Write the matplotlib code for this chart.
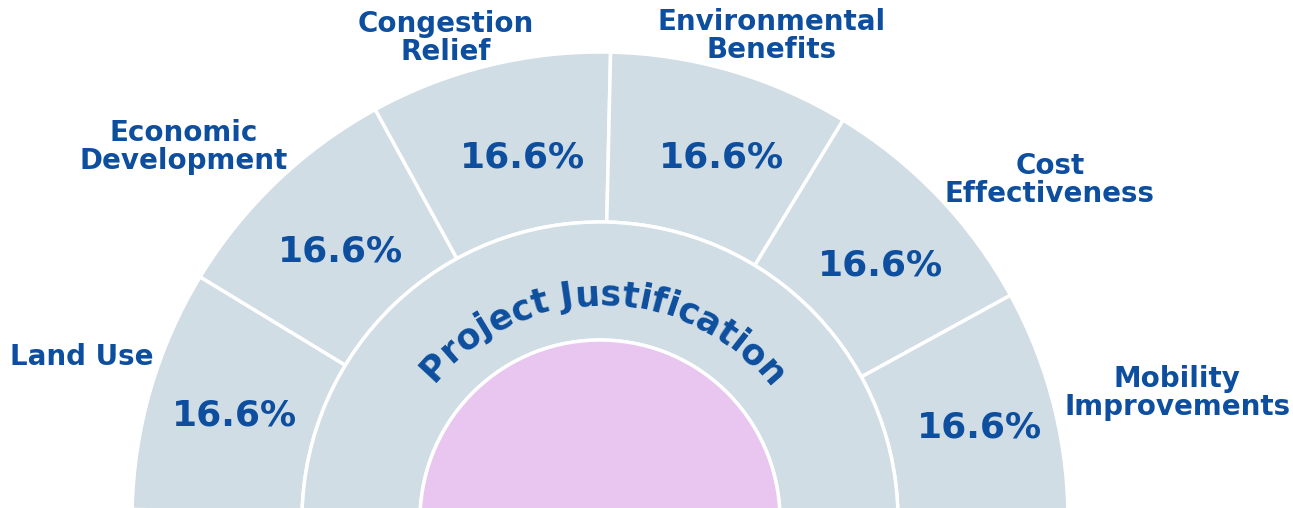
import numpy as np
import matplotlib
matplotlib.use("Agg")
import matplotlib.pyplot as plt
from matplotlib.textpath import TextToPath
from matplotlib.font_manager import FontProperties

# ---- data ----
categories = ["Land Use", "Economic\nDevelopment", "Congestion\nRelief",
              "Environmental\nBenefits", "Cost\nEffectiveness", "Mobility\nImprovements"]
shares = [16.6, 16.6, 16.6, 16.6, 16.6, 16.6]
center_title = "Project Justification"

# ---- style / layout ----
BLUE = "#0d4f9e"
GRAY = "#d1dde5"
PINK = "#e8c6ef"
FONT = "DejaVu Sans"

W, H, DPI = 1293, 508, 100
R_PX = 468.0
CX, CY = 600.0, 520.0
BOTTOM_PX = 505.0
START = 178.7

# category label layout: (angle offset from wedge mid in deg, radius in px)
label_layout = [(-1.2, 543), (4.5, 559), (4.0, 506), (-3.2, 513), (-6.6, 564), (-1.3, 591)]
# percentage label layout: (angle offset in deg, radius in px)
pct_layout = [(-0.2, 381), (0.0, 376), (-1.7, 374), (-2.1, 386), (-1.0, 381), (0.5, 391)]

fig = plt.figure(figsize=(W / DPI, H / DPI), dpi=DPI)
fig.patch.set_facecolor("white")
ax = fig.add_axes([0, (H - BOTTOM_PX) / H, 1, BOTTOM_PX / H])

total = sum(shares)
outer, _ = ax.pie(shares + [total], radius=1.0, startangle=START, counterclock=False,
                  wedgeprops=dict(width=(468 - 298) / R_PX, edgecolor="white", linewidth=2.5))
outer[-1].set_visible(False)
for w in outer[:-1]:
    w.set_facecolor(GRAY)

inner, _ = ax.pie([total, total], radius=298 / R_PX, startangle=START, counterclock=False,
                  wedgeprops=dict(width=(298 - 180) / R_PX, edgecolor="white", linewidth=2.5))
inner[0].set_facecolor(GRAY)
inner[1].set_visible(False)

core, _ = ax.pie([total, total], radius=180 / R_PX, startangle=START, counterclock=False,
                 wedgeprops=dict(edgecolor="white", linewidth=2.5))
core[0].set_facecolor(PINK)
core[1].set_visible(False)

ax.set_aspect("auto")
ax.set_xlim(-CX / R_PX, (W - CX) / R_PX)
ax.set_ylim((CY - BOTTOM_PX) / R_PX, CY / R_PX)
ax.axis("off")

# percentage labels and category labels
for w, v, name, (doff, rpx), (poff, prpx) in zip(outer[:-1], shares, categories,
                                                 label_layout, pct_layout):
    midd = (w.theta1 + w.theta2) / 2
    pa = np.deg2rad(midd + poff)
    r = prpx / R_PX
    ax.text(r * np.cos(pa), r * np.sin(pa), f"{v}%", ha="center", va="center_baseline",
            fontsize=26, fontweight="bold", color=BLUE, family=FONT)
    a = np.deg2rad(midd + doff)
    rl = rpx / R_PX
    ax.text(rl * np.cos(a), rl * np.sin(a), name, ha="center", va="center",
            multialignment="center", fontsize=20, fontweight="bold", color=BLUE,
            family=FONT, linespacing=1.0)

# curved title
fp = FontProperties(family=FONT, weight="bold", size=25)
ttp = TextToPath()
def wpx(s):
    w, h, d = ttp.get_text_width_height_descent(s, fp, ismath=False)
    return w * DPI / 72.0

total_w = wpx(center_title)
Rb = 215 / R_PX
theta_c = np.deg2rad(89.0)
for i, ch in enumerate(center_title):
    if ch == " ":
        continue
    s = wpx(center_title[:i + 1]) - wpx(ch) / 2
    ang = theta_c + ((total_w / 2 - s) / R_PX) / Rb
    ax.text(Rb * np.cos(ang), Rb * np.sin(ang), ch, ha="center", va="baseline",
            rotation=np.rad2deg(ang) - 90, rotation_mode="anchor",
            fontsize=25, fontweight="bold", color=BLUE, family=FONT)

fig.savefig("out.png", dpi=DPI, facecolor="white")
